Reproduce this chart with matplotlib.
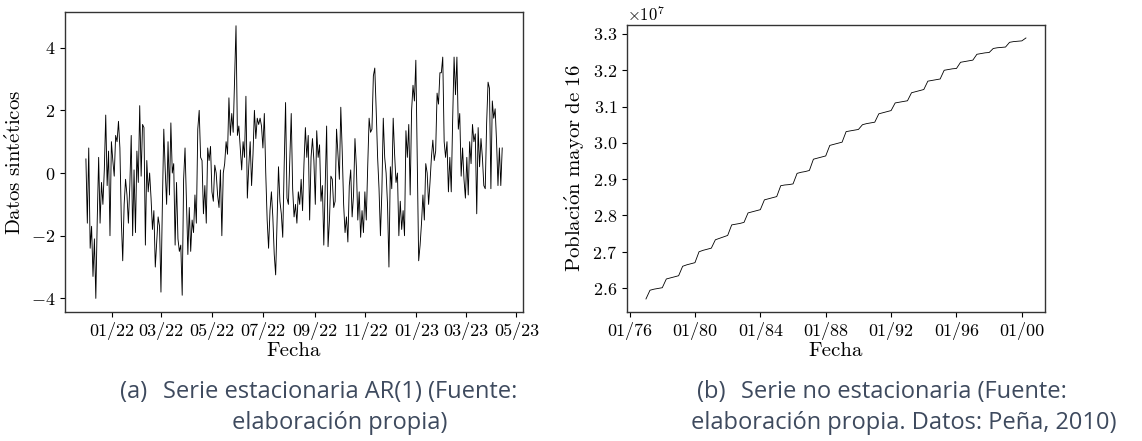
import numpy as np
import pandas as pd
import matplotlib
matplotlib.use("Agg")
import matplotlib.pyplot as plt
import matplotlib.dates as mdates

plt.rcParams['font.family'] = 'serif'
plt.rcParams['font.serif'] = ['cmr10', 'DejaVu Serif']
plt.rcParams['mathtext.fontset'] = 'cm'
plt.rcParams['axes.formatter.use_mathtext'] = True
plt.rcParams['axes.unicode_minus'] = True

# serie AR(1) sintetica (a)
ar_start = "2021-12-01"
ar_end = "2023-04-14"
ar_values = [
    0.45, -1.6, 0.8, -2.4, -1.7, -3.3, -2.1, -4.0, -1.5, 0.5, -1.6, -0.3, -1.0, 0.1,
    1.85, -0.4, 0.7, -2.0, 1.0, 0.4, -0.1, 1.2, 1.0, 1.65, 0.8, -1.5, -2.8, -1.0,
    -0.2, -0.7, -1.6, -0.4, 1.2, -2.0, 0.1, -1.9, 0.7, -0.3, 2.15, -0.1, 1.55, 1.45,
    -2.3, 0.4, -0.6, 0.0, -0.8, -1.8, -1.2, -3.0, -2.2, -1.4, -1.7, -3.8, -1.0, 1.4,
    0.1, -1.0, 1.0, -0.7, 1.6, 0.0, 0.3, -2.3, -0.3, -2.1, -2.5, -2.3, -3.9, -0.2,
    0.8, -0.9, -2.6, -1.1, -2.5, -1.5, -1.9, -0.7, -1.6, 1.4, 2.0, 0.5, 0.4, -1.3,
    -0.4, -1.6, 0.8, 0.4, 0.85, -0.6, -0.9, 0.25, 0.0, -0.7, -1.1, 0.1, -2.0, 0.0,
    0.3, 1.0, 0.6, 2.4, 1.2, 1.9, 1.3, 3.0, 4.7, 1.2, 1.5, 0.8, 0.1, 1.0,
    0.5, 2.45, -0.8, 0.2, 1.0, -0.4, 0.6, 2.0, 1.1, 1.75, 1.55, 1.75, 1.5, 0.8,
    1.9, 0.0, -1.5, -2.4, -1.2, -0.6, -1.4, -2.6, -3.25, -1.5, 0.2, -0.9, -1.3, -2.05,
    0.2, 2.25, -0.8, -1.0, 0.4, 1.9, -0.5, -1.4, -1.0, -1.6, -0.6, -1.0, -0.2, -1.2,
    0.3, 1.45, 0.5, 1.2, -1.5, 0.5, 1.1, 0.4, -1.0, 1.35, 0.5, 0.9, -0.9, -0.4,
    -2.3, -0.4, 1.5, -2.35, -1.5, -0.1, -0.2, -1.1, -0.9, 1.4, 0.6, -0.2, 2.1, 0.7,
    -1.0, -1.9, -1.4, -2.2, -0.4, 0.1, -1.4, -0.7, 1.1, 0.2, -1.5, -0.6, -2.05, -1.2,
    -1.9, -0.6, -1.5, 0.2, 1.75, 1.3, 1.4, 3.1, 3.35, 2.0, 0.5, -0.5, -2.0, -0.6,
    1.75, 0.5, 0.0, -1.0, -3.0, 0.2, -0.5, 1.75, 0.6, -0.3, 0.0, -2.0, -0.9, -1.8,
    -1.2, -2.0, 1.35, 0.5, 1.55, -0.7, 2.0, 2.8, 2.3, 3.6, 0.3, -2.8, -2.3, -1.6,
    -0.7, -1.5, 0.3, 0.0, -1.0, -0.3, 0.5, 1.05, 0.4, 0.7, 2.55, 2.2, 3.2, 3.2,
    3.7, 1.0, 0.5, 1.0, -0.6, 0.5, -0.6, 1.7, 3.7, 2.5, 3.7, 1.4, 1.9, -0.1,
    0.8, -0.2, -0.8, 0.5, -0.7, 1.0, 0.3, 1.55, 1.0, 1.25, -1.3, 1.45, 0.2, 1.1,
    0.5, -0.4, -0.5, 1.6, 2.9, 2.7, -0.5, 2.3, 1.75, 2.05, 1.0, -0.4, 0.8, -0.4,
    0.8,
]

# poblacion mayor de 16 (trimestral, x1e7) (b)
pob_start = "1977-01-01"
pob_values = [
    2.570, 2.594, 2.597, 2.599,
    2.601, 2.625, 2.628, 2.631,
    2.634, 2.660, 2.664, 2.667,
    2.670, 2.700, 2.704, 2.707,
    2.710, 2.733, 2.737, 2.741,
    2.745, 2.774, 2.776, 2.778,
    2.781, 2.807, 2.810, 2.813,
    2.816, 2.843, 2.846, 2.849,
    2.852, 2.882, 2.884, 2.885,
    2.887, 2.916, 2.919, 2.921,
    2.924, 2.955, 2.958, 2.961,
    2.964, 2.993, 2.996, 2.999,
    3.002, 3.031, 3.033, 3.035,
    3.037, 3.050, 3.053, 3.055,
    3.057, 3.080, 3.083, 3.086,
    3.089, 3.110, 3.112, 3.114,
    3.116, 3.138, 3.141, 3.144,
    3.147, 3.170, 3.172, 3.174,
    3.176, 3.200, 3.202, 3.204,
    3.205, 3.222, 3.224, 3.226,
    3.228, 3.244, 3.246, 3.248,
    3.249, 3.260, 3.262, 3.263,
    3.264, 3.277, 3.279, 3.280,
    3.281, 3.289,
]
pob_ticks = [2.6, 2.7, 2.8, 2.9, 3.0, 3.1, 3.2, 3.3]

caption_a = ["Serie estacionaria AR(1) (Fuente:", "elaboración propia)"]
caption_b = ["Serie no estacionaria (Fuente:", "elaboración propia. Datos: Peña, 2010)"]

ar_dates = pd.date_range(ar_start, ar_end, periods=len(ar_values))
pob_dates = pd.date_range(pob_start, periods=len(pob_values), freq="QS")
pob = np.array(pob_values) * 1e7

fig = plt.figure(figsize=(11.42, 4.41), dpi=100)
ax1 = fig.add_axes([0.057, 0.2925, 0.401, 0.680])
ax2 = fig.add_axes([0.549, 0.2925, 0.366, 0.651])

ax1.plot(ar_dates, ar_values, color="black", lw=0.65)
ax1.xaxis.set_major_locator(mdates.MonthLocator(bymonth=[1, 3, 5, 7, 9, 11]))
ax1.xaxis.set_major_formatter(mdates.DateFormatter("%m/%y"))
ax1.set_yticks([-4, -2, 0, 2, 4])
ax1.set_xlabel("Fecha", fontsize=15, labelpad=2)
ax1.set_ylabel(r"$\mathrm{Datos\ sint\acute{e}ticos}$", fontsize=15)

ax2.plot(pob_dates, pob, color="black", lw=0.6)
ax2.set_yticks(np.array(pob_ticks) * 1e7)
ax2.xaxis.set_major_locator(mdates.YearLocator(4))
ax2.xaxis.set_major_formatter(mdates.DateFormatter("%m/%y"))
ax2.set_xlabel("Fecha", fontsize=15, labelpad=2)
ax2.set_ylabel(r"$\mathrm{Poblaci\acute{o}n\ mayor\ de\ 16}$", fontsize=15)

for ax in (ax1, ax2):
    ax.tick_params(labelsize=13)
    for s in ax.spines.values():
        s.set_linewidth(1.0)
        s.set_color("#333333")
ax2.yaxis.get_offset_text().set_fontsize(12)

# pies de figura
cap_color = "#3E4A5E"
cap_font = dict(family=["Open Sans", "DejaVu Sans"], fontsize=17, color=cap_color)
renderer = fig.canvas.get_renderer()
for label, lines, xc in [("(a)", caption_a, 340 / 1142), ("(b)", caption_b, 904 / 1142)]:
    t1 = fig.text(xc, 1 - 392 / 441, lines[0], ha="center", va="center", **cap_font)
    fig.text(xc, 1 - 423 / 441, lines[1], ha="center", va="center", **cap_font)
    bb = t1.get_window_extent(renderer)
    fig.text((bb.x0 - 16) / fig.bbox.width, 1 - 392 / 441, label, ha="right", va="center", **cap_font)

fig.savefig("out.png", dpi=100)
